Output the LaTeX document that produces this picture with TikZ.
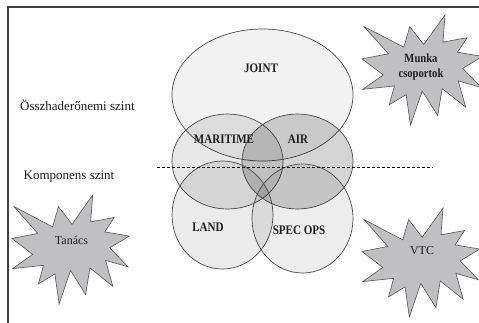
\documentclass[tikz,border=0pt]{standalone}
\usepackage{fontspec}
\setmainfont{Liberation Serif}
\usetikzlibrary{shapes.geometric}
\definecolor{starfill}{HTML}{C0C0C2}
\definecolor{starline}{HTML}{555555}
\definecolor{ringline}{HTML}{4A4A4A}
\definecolor{txt}{HTML}{1E1E1E}
\tikzset{
  ring/.style={draw=ringline, line width=0.7pt, ellipse, inner sep=0pt, fill=black},
  lbl/.style={font=\fontsize{13}{14}\selectfont\bfseries, text=txt, inner sep=0pt},
  levellbl/.style={font=\fontsize{13}{14}\selectfont, text=txt, inner sep=0pt, anchor=west},
  starlbl/.style={font=\fontsize{12}{13}\selectfont, text=txt, inner sep=0pt, align=center},
  starpath/.style={draw=starline, fill=starfill, line width=0.6pt, line join=miter},
}
\newcommand{\cond}[1]{\scalebox{0.85}[1]{#1}}
\newcommand{\explosion}[4]{% x0 y0 W H
  \begin{scope}[shift={(#1,#2)}, xscale=#3/216, yscale=#4/216]
    \path[starpath] (108,58) -- (145.22,0) -- (141.55,53.25) -- (183.8,44.57) -- (167.02,73.15) -- (210.97,81.37) -- (176.07,104.75) -- (208.65,142.15) -- (168.37,129.42) -- (181.45,180.95) -- (140.2,144.57) -- (132.47,197.37) -- (105.32,149.35) -- (84.85,216) -- (77.15,156.27) -- (47.62,176.17) -- (56.67,139.37) -- (1.35,145.87) -- (37.22,117.75) -- (0,86.15) -- (46.27,76.17) -- (3.7,22.95) -- (73.12,63.2) -- (83.52,22.95) -- cycle;
  \end{scope}}
\begin{document}
\begin{tikzpicture}[x=1pt, y=-1pt]
\useasboundingbox (0,0) rectangle (479,322);
\clip (0,0) rectangle (479,322);
\fill[white] (0,0) rectangle (479,322);
% frame
\coordinate (fbl) at (8,323);
\coordinate (ftl) at (8,7);
\coordinate (ftr) at (480,7);
\draw[line width=1.2pt, draw=black!75] (fbl) -- (ftl) -- (ftr);

% ellipses
\node[ring, fill opacity=0.05, minimum width=181pt, minimum height=132pt] (joint) at (262.5,95) {};
\node[ring, fill opacity=0.09, minimum width=111pt, minimum height=95pt] (maritime) at (227.5,161.5) {};
\node[ring, fill opacity=0.17, minimum width=111pt, minimum height=95pt] (air) at (297.5,161.5) {};
\node[ring, fill opacity=0.08, minimum width=101pt, minimum height=108pt] (land) at (222.5,215) {};
\node[ring, fill opacity=0.07, minimum width=101pt, minimum height=109pt] (specops) at (302.5,218.5) {};

% dashed level line
\coordinate (dashL) at (157,167);
\coordinate (dashR) at (433,167);
\draw[dashed, line width=0.6pt, dash pattern=on 3pt off 2pt] (dashL) -- (dashR);

% labels
\node[lbl] (tjoint) at (261,68) {\cond{JOINT}};
\node[lbl] (tmar) at (224,139.5) {\cond{MARITIME}};
\node[lbl] (tair) at (298,139.5) {\cond{AIR}};
\node[lbl] (tland) at (208,227) {\cond{LAND}};
\node[lbl] (tspec) at (299,230.5) {\cond{SPEC OPS}};

\node[levellbl] (lvl1) at (20,105) {Összhaderőnemi szint};
\node[levellbl] (lvl2) at (23.5,177) {Komponens szint};

% stars
\explosion{362}{15}{123.5}{110}
\explosion{12}{195}{120}{109}
\explosion{362}{208}{120.5}{109}
\node[starlbl, font=\fontsize{12.5}{15.5}\selectfont\bfseries] (munka) at (421,67) {\cond{Munka}\\\cond{csoportok}};
\node[starlbl] (tanacs) at (71.5,240.5) {Tanács};
\node[starlbl] (vtc) at (422,250.5) {VTC};
\end{tikzpicture}
\end{document}
